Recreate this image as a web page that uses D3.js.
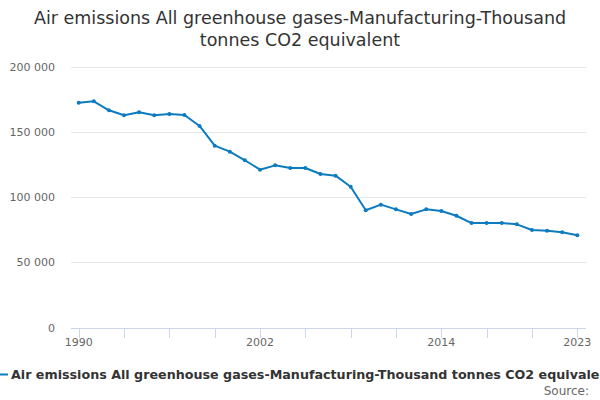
<!DOCTYPE html>
<html>
<head>
<meta charset="utf-8">
<script src="https://cdn.jsdelivr.net/npm/d3@7"></script>
<style>
  body { margin: 0; background: #fff; }
  svg { display: block; font-family: "DejaVu Sans", sans-serif; }
</style>
</head>
<body>
<svg width="600" height="400"></svg>
<script>
var WIDTH = 600;
var HEIGHT = 400;

// yearly values, thousand tonnes CO2 equivalent
var years = d3.range(1990, 2024);
var emissions = [
  172400, 173500, 166600, 162800, 165100, 162800, 163800, 163000, 154600, 139500,
  134900, 128300, 121100, 124400, 122400, 122400, 117800, 116500, 108000, 90000,
  94300, 90700, 87100, 90700, 89400, 85800, 80200, 80200, 80200, 79200,
  74900, 74300, 73100, 70800
];
var yTicks = [0, 50000, 100000, 150000, 200000];
var xTickMarks = d3.range(1990, 2024, 3);
var xTickLabels = [1990, 2002, 2014, 2023];
var titleLines = ['Air emissions All greenhouse gases-Manufacturing-Thousand', 'tonnes CO2 equivalent'];
var seriesName = 'Air emissions All greenhouse gases-Manufacturing-Thousand tonnes CO2 equivalent';

var plotLeft = 71, plotRight = 586;

var x = d3.scaleLinear().domain([1990, 2023]).range([78.7, 577.3]);
var y = d3.scaleLinear().domain([0, 200000]).range([327.7, 66.7]);

var svg = d3.select('svg');
var fmt = function(v) { return d3.format(',')(v).replace(/,/g, ' '); };

// title
svg.append('text')
  .attr('x', WIDTH / 2)
  .attr('y', 24)
  .attr('text-anchor', 'middle')
  .style('font-size', '17.5px')
  .style('fill', '#333333')
  .selectAll('tspan')
  .data(titleLines)
  .enter()
  .append('tspan')
  .attr('x', WIDTH / 2)
  .attr('dy', function(d, i) { return i === 0 ? 0 : 22; })
  .text(function(d) { return d; });

// gridlines
svg.append('g').selectAll('line')
  .data(yTicks.filter(function(d) { return d > 0; }))
  .enter()
  .append('line')
  .attr('x1', plotLeft).attr('x2', plotRight)
  .attr('y1', function(d) { return Math.round(y(d)) + 0.5; })
  .attr('y2', function(d) { return Math.round(y(d)) + 0.5; })
  .attr('stroke', '#e6e6e6');

// y labels
svg.append('g').selectAll('text')
  .data(yTicks)
  .enter()
  .append('text')
  .attr('x', 55)
  .attr('y', function(d) { return y(d) + 4; })
  .attr('text-anchor', 'end')
  .style('font-size', '11px')
  .style('fill', '#666666')
  .text(fmt);

// x axis line + ticks
svg.append('line')
  .attr('x1', plotLeft).attr('x2', plotRight)
  .attr('y1', 328.5).attr('y2', 328.5)
  .attr('stroke', '#ccd6eb');

svg.append('g').selectAll('line')
  .data(xTickMarks)
  .enter()
  .append('line')
  .attr('x1', function(d) { return Math.round(x(d)) + 0.5; })
  .attr('x2', function(d) { return Math.round(x(d)) + 0.5; })
  .attr('y1', 328).attr('y2', 338)
  .attr('stroke', '#ccd6eb');

svg.append('g').selectAll('text')
  .data(xTickLabels)
  .enter()
  .append('text')
  .attr('x', function(d) { return x(d); })
  .attr('y', 346)
  .attr('text-anchor', 'middle')
  .style('font-size', '11px')
  .style('fill', '#666666')
  .text(function(d) { return d; });

// series
var points = years.map(function(yr, i) { return [yr, emissions[i]]; });
var line = d3.line()
  .x(function(d) { return x(d[0]); })
  .y(function(d) { return y(d[1]); });

svg.append('path')
  .datum(points)
  .attr('d', line)
  .attr('fill', 'none')
  .attr('stroke', '#0c7bc0')
  .attr('stroke-width', 2)
  .attr('stroke-linejoin', 'round');

svg.append('g').selectAll('circle')
  .data(points)
  .enter()
  .append('circle')
  .attr('cx', function(d) { return x(d[0]); })
  .attr('cy', function(d) { return y(d[1]); })
  .attr('r', 2)
  .attr('fill', '#0c7bc0');

// legend (the original runs past the right edge too)
svg.append('line')
  .attr('x1', -8).attr('x2', 8)
  .attr('y1', 374.5).attr('y2', 374.5)
  .attr('stroke', '#0c7bc0')
  .attr('stroke-width', 2);

svg.append('text')
  .attr('x', 11)
  .attr('y', 379)
  .style('font-size', '12.7px')
  .style('font-weight', 'bold')
  .style('fill', '#333333')
  .text(seriesName);

// credits
svg.append('text')
  .attr('x', 589)
  .attr('y', 395)
  .attr('text-anchor', 'end')
  .style('font-size', '12px')
  .style('fill', '#666666')
  .text('Source:');
</script>
</body>
</html>
